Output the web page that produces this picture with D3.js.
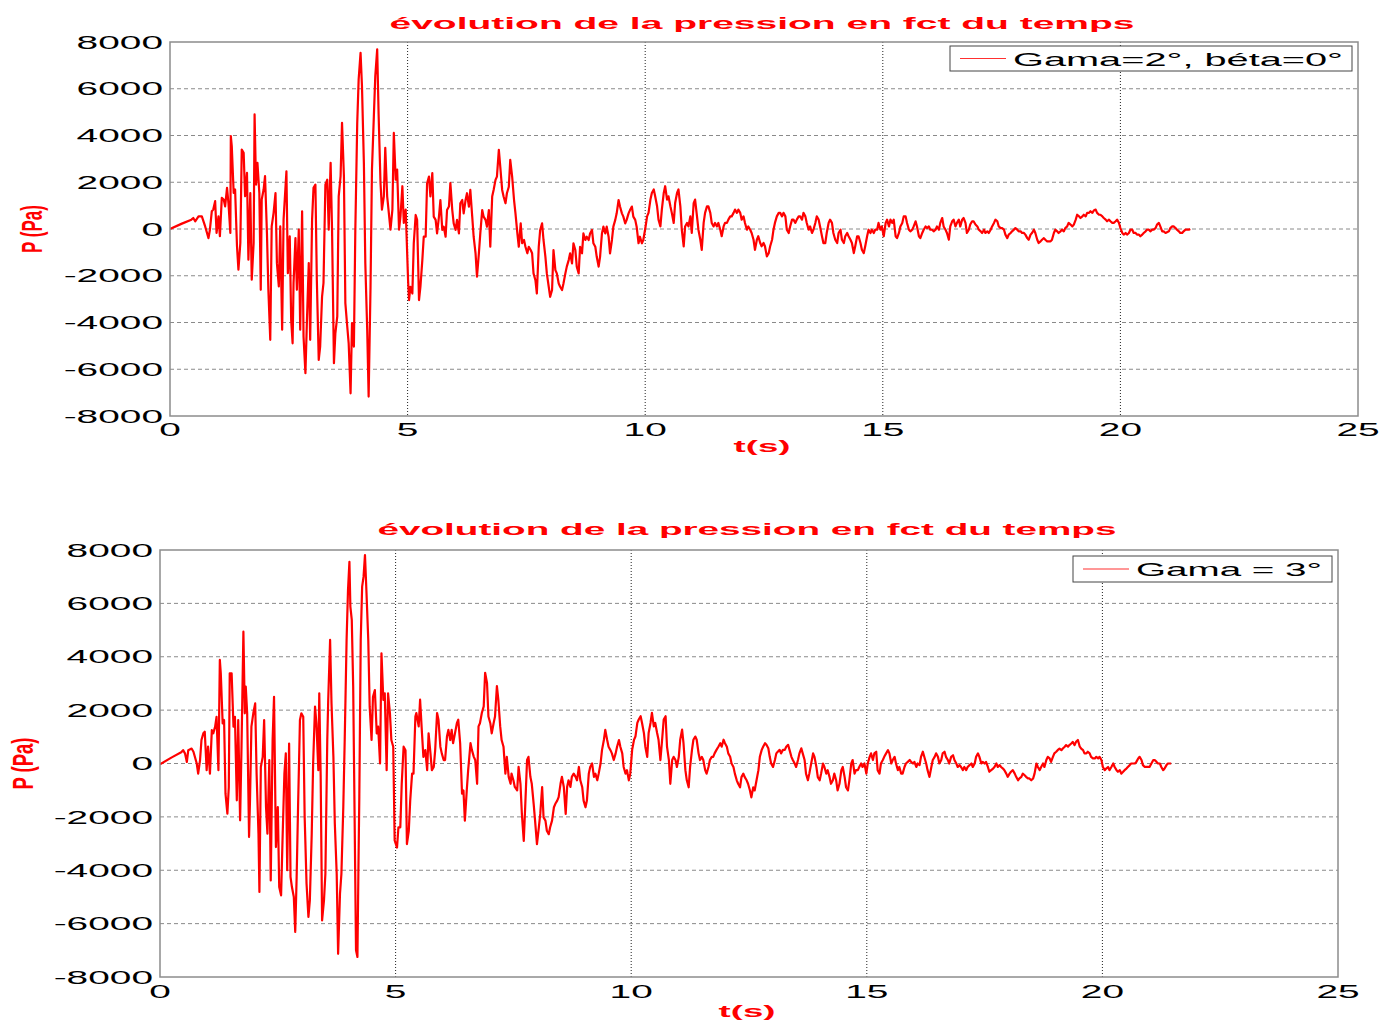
<!DOCTYPE html>
<html><head><meta charset="utf-8">
<script src="https://cdn.jsdelivr.net/npm/d3@7"></script>
<style>body{margin:0;background:#fff}svg{display:block}</style>
</head><body>
<svg id="chart" width="1381" height="1022"></svg>
<script>
const titleText = "évolution de la pression en fct du temps";
const xLabelText = "t(s)";
const yLabelText = "P (Pa)";
const legendTop = "Gama=2°, béta=0°";
const legendBottom = "Gama = 3°";
const xTicks = [0, 5, 10, 15, 20, 25];
const yTicks = [-8000, -6000, -4000, -2000, 0, 2000, 4000, 6000, 8000];

const seriesGama2 = [[0,0],[0.25,230],[0.45,400],[0.49,470],[0.53,330],[0.60,540],[0.67,540],[0.74,110],[0.81,-390],[0.84,-30],[0.88,760],[0.91,830],[0.95,1190],[0.98,-170],[1.02,540],[1.05,-310],[1.09,1330],[1.13,1260],[1.16,970],[1.20,1760],[1.23,1110],[1.27,-170],[1.28,3970],[1.30,3540],[1.34,1540],[1.37,1690],[1.41,-740],[1.44,-1740],[1.48,-600],[1.51,3400],[1.55,3260],[1.58,1400],[1.62,2400],[1.65,-1310],[1.69,1540],[1.72,-2170],[1.76,-600],[1.78,4900],[1.81,1900],[1.84,2830],[1.88,1540],[1.91,-2600],[1.93,1260],[1.97,1690],[2.00,2260],[2.04,-170],[2.07,-2600],[2.11,-4740],[2.14,110],[2.18,690],[2.22,1540],[2.25,-1460],[2.29,-2460],[2.32,110],[2.36,-4310],[2.39,400],[2.45,2470],[2.48,-1890],[2.52,-310],[2.55,-3890],[2.58,-4890],[2.60,-2310],[2.64,-390],[2.67,-2600],[2.71,-30],[2.74,-4310],[2.78,760],[2.81,-4600],[2.85,-6170],[2.88,-4030],[2.92,-1460],[2.95,-4740],[2.99,400],[3.02,1760],[3.06,1900],[3.09,-2170],[3.13,-5600],[3.16,-5030],[3.20,-2890],[3.23,-2310],[3.27,1900],[3.31,2110],[3.34,-30],[3.38,2830],[3.41,-30],[3.45,-5740],[3.48,-4460],[3.52,-3740],[3.55,1400],[3.59,2260],[3.62,4540],[3.66,2260],[3.69,-3170],[3.73,-4170],[3.76,-4890],[3.80,-7030],[3.83,-4030],[3.87,-5030],[3.90,-30],[3.94,4540],[3.97,6400],[4.01,7540],[4.04,6110],[4.08,2830],[4.11,-1460],[4.15,-4310],[4.18,-7170],[4.22,-2460],[4.25,2540],[4.29,4830],[4.32,6540],[4.36,7690],[4.39,4900],[4.43,1970],[4.46,830],[4.50,1400],[4.53,3470],[4.57,1400],[4.64,-30],[4.68,830],[4.71,4110],[4.75,2110],[4.78,2540],[4.82,-30],[4.85,540],[4.89,1830],[4.92,260],[4.96,830],
[5.01,-2190],[5.03,-3040],[5.06,-2470],[5.10,-2760],[5.13,-610],[5.17,600],[5.20,390],[5.24,-3040],[5.27,-2470],[5.31,-1330],[5.34,-330],[5.38,-330],[5.41,1960],[5.45,2240],[5.48,1390],[5.52,2390],[5.55,530],[5.59,390],[5.62,-190],[5.66,530],[5.69,1240],[5.73,-40],[5.76,100],[5.80,-330],[5.83,810],[5.87,960],[5.90,1960],[5.94,810],[5.97,240],[6.01,-40],[6.04,390],[6.08,-190],[6.11,1100],[6.15,1240],[6.18,670],[6.22,1240],[6.25,1530],[6.29,960],[6.32,1670],[6.36,530],[6.39,-330],[6.43,-1040],[6.46,-2040],[6.50,-1040],[6.53,-190],[6.57,810],[6.60,530],[6.64,390],[6.67,100],[6.71,810],[6.74,-760],[6.78,1390],[6.81,1670],[6.85,2100],[6.88,2240],[6.92,3390],[6.95,2670],[6.99,1670],[7.02,1390],[7.06,1100],[7.09,1530],[7.13,1810],[7.16,2960],[7.20,2240],[7.24,1240],[7.27,670],[7.31,-190],[7.34,-760],[7.38,240],[7.41,-610],[7.45,-470],[7.48,-760],[7.52,-1040],[7.55,-760],[7.59,-900],[7.62,-1040],[7.65,-1900],[7.69,-2190],[7.72,-2760],[7.76,-760],[7.79,-40],[7.83,240],[7.86,-470],[7.90,-1190],[7.93,-1900],[7.97,-2470],[8.00,-2900],[8.04,-2610],[8.07,-900],[8.11,-1760],[8.14,-1900],[8.18,-2330],[8.21,-2470],[8.25,-2610],[8.28,-2330],[8.32,-1900],[8.35,-1610],[8.39,-1330],[8.42,-1040],[8.46,-1470],[8.49,-610],[8.53,-900],[8.56,-1610],[8.60,-1900],[8.63,-760],[8.67,-1040],[8.70,-190],[8.74,-470],[8.77,-330],[8.81,-470],[8.84,-190],[8.88,-40],[8.91,-610],[8.95,-760],[8.98,-1190],[9.02,-1610],[9.05,-1190],[9.09,-190],[9.12,100],[9.16,-190],[9.19,100],[9.23,-330],[9.26,-1040],[9.30,-470],[9.33,100],[9.37,390],[9.40,670],[9.44,1240],[9.47,960],[9.51,670],[9.54,530],[9.58,240],[9.61,390],[9.65,670],[9.68,810],[9.72,960],[9.75,530],[9.79,390],[9.82,100],[9.86,-610],[9.89,-330],[9.93,-610],[9.96,-470],
[10.0,0],[10.04,540],[10.07,690],[10.11,1260],[10.14,1540],[10.18,1690],[10.21,1400],[10.25,970],[10.28,400],[10.32,110],[10.35,830],[10.39,1540],[10.42,1830],[10.46,1260],[10.49,1400],[10.53,970],[10.56,690],[10.60,260],[10.63,1110],[10.67,1540],[10.70,1690],[10.74,970],[10.77,-30],[10.81,-740],[10.84,110],[10.88,260],[10.91,110],[10.95,540],[10.98,-170],[11.02,1110],[11.05,1260],[11.09,540],[11.12,-30],[11.16,-460],[11.19,-890],[11.23,260],[11.26,690],[11.30,970],[11.33,970],[11.37,690],[11.40,260],[11.44,110],[11.47,260],[11.51,110],[11.54,260],[11.58,-30],[11.61,-310],[11.65,110],[11.68,260],[11.72,260],[11.75,400],[11.79,540],[11.82,540],[11.86,690],[11.89,830],[11.93,690],[11.96,830],[12.0,690],[12.03,400],[12.07,540],[12.10,260],[12.14,-30],[12.17,110],[12.21,-30],[12.24,-170],[12.28,-460],[12.31,-890],[12.35,-460],[12.38,-310],[12.42,-600],[12.45,-740],[12.49,-600],[12.52,-740],[12.56,-1170],[12.60,-1030],[12.63,-740],[12.67,-460],[12.70,-30],[12.73,260],[12.77,540],[12.81,690],[12.84,690],[12.88,540],[12.91,690],[12.95,540],[12.98,-30],[13.02,-170],[13.05,110],[13.09,400],[13.12,400],[13.16,260],[13.19,400],[13.23,540],[13.26,540],[13.30,400],[13.33,690],[13.37,540],[13.40,260],[13.44,-30],[13.47,110],[13.51,-170],[13.54,-30],[13.58,260],[13.61,540],[13.65,400],[13.68,110],[13.72,-310],[13.75,-600],[13.79,-600],[13.82,-170],[13.86,260],[13.89,400],[13.93,260],[13.96,-170],[14.0,-460],[14.04,-600],[14.07,-170],[14.11,-30],[14.14,-460],[14.18,-600],[14.21,-310],[14.25,-170],[14.28,-310],[14.32,-460],[14.35,-600],[14.39,-1030],[14.42,-740],[14.46,-310],[14.49,-310],[14.53,-600],[14.56,-890],[14.60,-1030],[14.63,-740],[14.67,-310],[14.70,-30],[14.74,-170],[14.77,-30],[14.81,-170],[14.84,-30],[14.88,-30],[14.91,260],[14.95,-30],[14.98,110],
[15.02,-310],[15.06,260],[15.09,400],[15.13,110],[15.16,400],[15.20,260],[15.23,400],[15.27,-310],[15.30,-390],[15.34,-170],[15.37,110],[15.41,260],[15.44,540],[15.48,540],[15.51,260],[15.55,-30],[15.58,-100],[15.62,-30],[15.65,110],[15.69,330],[15.72,110],[15.76,-310],[15.79,-390],[15.83,-170],[15.86,-30],[15.90,110],[15.93,40],[15.97,110],[16.0,-30],[16.04,-30],[16.07,-100],[16.11,-30],[16.14,110],[16.18,-30],[16.21,260],[16.25,470],[16.28,110],[16.32,-30],[16.35,-170],[16.39,-460],[16.42,110],[16.46,330],[16.49,400],[16.53,110],[16.56,260],[16.60,400],[16.63,110],[16.67,400],[16.70,470],[16.74,260],[16.77,-170],[16.81,-30],[16.84,190],[16.88,330],[16.91,330],[16.95,190],[16.99,110],[17.02,-30],[17.06,-100],[17.09,-170],[17.13,-30],[17.16,-170],[17.20,-100],[17.23,-170],[17.27,-30],[17.30,110],[17.34,260],[17.37,400],[17.41,330],[17.44,110],[17.48,40],[17.51,40],[17.55,-30],[17.58,-240],[17.62,-390],[17.65,-240],[17.69,-170],[17.72,-100],[17.76,-30],[17.79,40],[17.83,-30],[17.86,-100],[17.90,-100],[17.93,-170],[17.97,-170],[18.0,-240],[18.04,-390],[18.07,-460],[18.11,-240],[18.14,-170],[18.18,-30],[18.21,-170],[18.25,-460],[18.28,-600],[18.32,-530],[18.35,-460],[18.39,-390],[18.42,-460],[18.46,-530],[18.49,-530],[18.53,-530],[18.56,-460],[18.60,-170],[18.63,-30],[18.67,-100],[18.70,-170],[18.74,-100],[18.77,-30],[18.81,-100],[18.84,40],[18.88,110],[18.91,260],[18.95,190],[18.99,110],[19.02,190],[19.06,400],[19.09,610],[19.13,540],[19.16,470],[19.20,540],[19.23,610],[19.27,540],[19.30,690],[19.34,690],[19.37,760],[19.41,690],[19.44,790],[19.48,830],[19.51,690],[19.55,610],[19.58,610],[19.62,540],[19.65,470],[19.69,400],[19.72,330],[19.76,400],[19.79,330],[19.83,260],[19.86,260],[19.90,330],[19.93,400],[19.97,260],[20.0,40],[20.04,-170],[20.07,-240],[20.11,-170],[20.14,-240],[20.18,-170],[20.21,-30],[20.25,-30],[20.28,-170],[20.32,-170],[20.35,-240],[20.39,-240],[20.42,-310],[20.46,-240],[20.49,-170],[20.53,-100],[20.56,-30],[20.60,-30],[20.63,-100],[20.67,-30],[20.70,-30],[20.74,40],[20.77,190],[20.81,260],[20.84,110],[20.88,-100],[20.91,-100],[20.95,-170],[20.98,-140],[21.02,-100],[21.05,40],[21.09,110],[21.12,110],[21.16,40],[21.19,-30],[21.23,-100],[21.26,-170],[21.30,-170],[21.33,-100],[21.37,-30],[21.40,-30],[21.44,-30],[21.47,0]];

const seriesGama3 = [[0,-30],[0.25,230],[0.45,420],[0.49,500],[0.53,380],[0.57,60],[0.60,500],[0.67,560],[0.71,440],[0.78,0],[0.81,-380],[0.85,130],[0.88,880],[0.92,1130],[0.95,1190],[0.99,-250],[1.02,630],[1.06,-380],[1.10,1250],[1.13,1130],[1.17,1380],[1.20,1750],[1.24,-250],[1.27,3880],[1.29,3380],[1.33,1500],[1.36,1630],[1.39,-1130],[1.43,-1880],[1.46,-880],[1.48,3380],[1.52,3380],[1.56,1380],[1.59,1750],[1.63,-1380],[1.66,1630],[1.70,-2130],[1.73,630],[1.77,4940],[1.80,1880],[1.82,2880],[1.85,1880],[1.89,-2750],[1.91,-1380],[1.94,1380],[1.98,1880],[2.02,2250],[2.05,-380],[2.09,-2630],[2.11,-4810],[2.14,-130],[2.18,250],[2.21,1630],[2.25,-1630],[2.28,-2630],[2.32,130],[2.35,-4380],[2.39,880],[2.42,2500],[2.46,-3130],[2.50,-1630],[2.53,-4630],[2.57,-4940],[2.60,-2880],[2.64,-380],[2.67,380],[2.70,-4000],[2.74,750],[2.77,-4250],[2.80,-4630],[2.84,-5000],[2.87,-6310],[2.90,-4250],[2.93,-1630],[2.97,1630],[3.00,1880],[3.04,1750],[3.07,-2000],[3.11,-4500],[3.15,-5750],[3.18,-5130],[3.22,-2630],[3.25,0],[3.29,2130],[3.32,1500],[3.36,-250],[3.38,2630],[3.41,-500],[3.44,-5880],[3.48,-5130],[3.51,-4130],[3.55,880],[3.57,2380],[3.61,4630],[3.64,2250],[3.68,250],[3.71,-2250],[3.75,-4130],[3.78,-7130],[3.82,-4880],[3.85,-4130],[3.89,-1630],[3.92,880],[3.96,4630],[3.99,6500],[4.02,7560],[4.04,5880],[4.07,5380],[4.10,2880],[4.13,-2000],[4.16,-7000],[4.19,-7250],[4.21,-4130],[4.23,-1250],[4.26,4630],[4.29,6630],[4.32,7000],[4.35,7810],[4.38,6500],[4.42,4630],[4.45,2130],[4.49,880],[4.52,2500],[4.56,2750],[4.60,1130],[4.63,1380],[4.67,0],[4.70,4130],[4.74,2380],[4.77,2630],[4.81,-250],[4.84,2630],[4.88,1880],[4.91,880],[4.95,630],[4.98,-2880],
[5.03,-3150],[5.06,-2390],[5.10,-2390],[5.13,-760],[5.17,630],[5.21,500],[5.24,-3020],[5.28,-2520],[5.31,-1390],[5.35,-380],[5.38,-380],[5.42,1760],[5.44,1890],[5.49,1390],[5.52,2390],[5.56,1130],[5.59,250],[5.63,500],[5.67,-250],[5.70,1130],[5.74,380],[5.77,-250],[5.81,-130],[5.84,500],[5.88,1890],[5.91,1640],[5.95,630],[5.98,380],[6.02,130],[6.05,130],[6.09,1010],[6.12,1260],[6.16,880],[6.19,1260],[6.22,760],[6.26,1130],[6.30,1510],[6.33,1640],[6.37,760],[6.41,-1130],[6.44,-1010],[6.47,-2140],[6.51,-1010],[6.54,-250],[6.59,760],[6.62,500],[6.66,250],[6.69,130],[6.73,-760],[6.76,1390],[6.79,1510],[6.83,1890],[6.87,2140],[6.90,3400],[6.94,3020],[6.97,1760],[7.01,1510],[7.04,1130],[7.08,1510],[7.11,1760],[7.15,2900],[7.18,2390],[7.22,1390],[7.25,880],[7.29,630],[7.33,-380],[7.36,250],[7.40,-500],[7.44,-760],[7.46,-380],[7.50,-630],[7.53,-880],[7.58,-1010],[7.61,-130],[7.65,-760],[7.68,-1890],[7.72,-2900],[7.75,-1640],[7.79,130],[7.82,250],[7.86,-500],[7.89,-760],[7.93,-1510],[7.96,-2140],[8.0,-3020],[8.04,-2390],[8.07,-1890],[8.11,-880],[8.14,-2020],[8.18,-2140],[8.21,-2520],[8.25,-2650],[8.28,-2390],[8.32,-2140],[8.36,-1640],[8.39,-1510],[8.43,-1390],[8.46,-1260],[8.50,-760],[8.53,-500],[8.57,-880],[8.61,-1890],[8.64,-880],[8.67,-630],[8.71,-880],[8.74,-500],[8.78,-380],[8.82,-500],[8.85,-630],[8.89,-130],[8.92,-630],[8.96,-880],[8.99,-1390],[9.03,-1640],[9.06,-1390],[9.10,-380],[9.13,-130],[9.17,0],[9.21,-500],[9.24,-380],[9.28,-630],[9.31,-380],[9.35,0],[9.38,500],[9.42,880],[9.45,1260],[9.49,880],[9.52,630],[9.56,500],[9.59,380],[9.63,130],[9.67,380],[9.70,630],[9.74,880],[9.77,630],[9.81,380],[9.84,-130],[9.88,-380],[9.91,-250],[9.95,-630],[9.98,-380],
[10.02,510],[10.06,890],[10.09,1010],[10.13,1520],[10.16,1650],[10.20,1770],[10.23,1520],[10.27,1140],[10.30,630],[10.34,250],[10.37,1140],[10.41,1520],[10.44,1900],[10.48,1390],[10.51,1520],[10.55,1140],[10.58,890],[10.62,130],[10.65,760],[10.69,1650],[10.73,1770],[10.76,630],[10.80,130],[10.83,-760],[10.87,130],[10.90,250],[10.94,130],[10.97,-130],[11.01,250],[11.04,890],[11.08,1270],[11.11,760],[11.15,-250],[11.18,-630],[11.22,-890],[11.25,-130],[11.29,510],[11.32,890],[11.36,1010],[11.39,890],[11.43,380],[11.46,130],[11.50,250],[11.53,130],[11.57,-250],[11.60,-380],[11.64,-130],[11.67,130],[11.71,250],[11.74,250],[11.77,380],[11.81,510],[11.85,630],[11.89,760],[11.92,630],[11.96,890],[11.99,760],[12.03,630],[12.06,380],[12.10,250],[12.13,0],[12.17,-130],[12.20,-380],[12.24,-630],[12.27,-760],[12.31,-890],[12.34,-510],[12.38,-380],[12.41,-510],[12.45,-630],[12.48,-760],[12.52,-1010],[12.55,-1270],[12.59,-890],[12.62,-1010],[12.66,-630],[12.70,-250],[12.73,250],[12.77,510],[12.80,630],[12.84,760],[12.87,700],[12.91,570],[12.94,250],[12.97,0],[13.01,-130],[13.05,130],[13.08,380],[13.11,440],[13.15,510],[13.18,380],[13.22,510],[13.26,510],[13.29,630],[13.33,700],[13.36,510],[13.40,250],[13.43,130],[13.47,0],[13.50,-130],[13.54,130],[13.57,380],[13.61,570],[13.64,380],[13.68,130],[13.71,-380],[13.75,-630],[13.78,-380],[13.82,0],[13.86,380],[13.89,250],[13.93,-130],[13.96,-510],[14.0,-630],[14.03,-380],[14.07,0],[14.10,-130],[14.14,-380],[14.17,-250],[14.21,-510],[14.24,-760],[14.28,-630],[14.31,-380],[14.35,-630],[14.38,-1010],[14.42,-760],[14.46,-250],[14.49,-130],[14.53,-510],[14.56,-890],[14.60,-1010],[14.63,-630],[14.67,0],[14.70,130],[14.74,-380],[14.77,-250],[14.81,-250],[14.84,-130],[14.88,0],[14.91,-130],[14.95,0],
[14.99,-380],[15.02,0],[15.06,250],[15.09,380],[15.13,130],[15.16,380],[15.20,440],[15.23,-250],[15.27,-380],[15.30,0],[15.34,130],[15.37,250],[15.41,380],[15.45,500],[15.48,380],[15.52,0],[15.55,130],[15.59,250],[15.62,0],[15.66,-250],[15.69,-130],[15.73,-380],[15.76,-380],[15.80,-130],[15.83,0],[15.87,60],[15.91,130],[15.94,60],[15.98,0],[16.01,60],[16.05,-130],[16.08,0],[16.12,-60],[16.15,250],[16.19,440],[16.22,250],[16.26,0],[16.29,-250],[16.33,-500],[16.37,-130],[16.40,130],[16.44,250],[16.47,380],[16.51,250],[16.54,0],[16.58,130],[16.61,380],[16.65,440],[16.68,250],[16.72,130],[16.75,0],[16.79,250],[16.83,310],[16.86,130],[16.90,0],[16.93,-130],[16.97,-60],[17.0,-130],[17.04,-250],[17.07,-130],[17.11,-250],[17.14,-130],[17.18,-60],[17.22,0],[17.25,-130],[17.29,0],[17.32,250],[17.36,380],[17.39,250],[17.43,0],[17.46,60],[17.50,0],[17.53,60],[17.57,-130],[17.60,-310],[17.64,-250],[17.68,-190],[17.71,-130],[17.75,0],[17.78,-130],[17.82,-60],[17.85,-130],[17.89,-190],[17.92,-250],[17.96,-380],[17.99,-500],[18.03,-380],[18.06,-310],[18.10,-250],[18.14,-380],[18.17,-500],[18.21,-630],[18.24,-560],[18.28,-500],[18.31,-380],[18.35,-440],[18.38,-500],[18.42,-560],[18.45,-560],[18.49,-630],[18.53,-560],[18.56,-380],[18.60,0],[18.63,-130],[18.67,-250],[18.70,-130],[18.74,0],[18.77,-130],[18.81,130],[18.84,250],[18.88,190],[18.91,60],[18.95,250],[18.98,380],[19.02,440],[19.05,500],[19.09,560],[19.13,500],[19.16,560],[19.20,630],[19.23,690],[19.27,630],[19.30,690],[19.34,750],[19.37,810],[19.41,690],[19.44,810],[19.48,880],[19.52,630],[19.55,560],[19.59,500],[19.62,380],[19.66,380],[19.69,440],[19.73,380],[19.76,250],[19.80,190],[19.84,190],[19.87,250],[19.91,190],[19.94,250],[19.98,130],[20.01,-130],[20.05,-250],[20.08,-190],[20.12,-130],[20.15,-250],[20.19,-130],[20.23,0],[20.26,-130],[20.30,-250],[20.33,-310],[20.37,-250],[20.40,-380],[20.44,-310],[20.47,-250],[20.51,-190],[20.54,-130],[20.58,-60],[20.61,0],[20.65,0],[20.69,0],[20.72,60],[20.76,190],[20.79,250],[20.83,130],[20.86,-60],[20.90,-130],[20.93,-130],[20.97,-130],[21.00,-130],[21.04,0],[21.08,130],[21.11,130],[21.15,60],[21.18,0],[21.22,0],[21.25,-130],[21.29,-250],[21.32,-190],[21.36,-60],[21.39,0],[21.43,0],[21.46,0]];

const svg = d3.select("#chart");
const FONT = "'Liberation Sans', Arial, sans-serif";
const SX = 2.1; // horizontal stretch of the original figure

function panel(cfg) {
  const x = d3.scaleLinear().domain([0, 25]).range([cfg.left, cfg.right]);
  const y = d3.scaleLinear().domain([-8000, 8000]).range([cfg.bottom, cfg.top]);
  const g = svg.append("g");
  const clipId = "clip" + cfg.id;
  svg.append("clipPath").attr("id", clipId).append("rect")
    .attr("x", cfg.left).attr("y", cfg.top)
    .attr("width", cfg.right - cfg.left).attr("height", cfg.bottom - cfg.top);

  g.selectAll("line.hg").data(yTicks.filter(v => v > -8000 && v < 8000)).join("line")
    .attr("x1", cfg.left).attr("x2", cfg.right)
    .attr("y1", d => y(d)).attr("y2", d => y(d))
    .attr("stroke", "#8a8a8a").attr("stroke-width", 1).attr("stroke-dasharray", "4,3");
  g.selectAll("line.vg").data(xTicks.filter(v => v > 0 && v < 25)).join("line")
    .attr("y1", cfg.top).attr("y2", cfg.bottom)
    .attr("x1", d => x(d)).attr("x2", d => x(d))
    .attr("stroke", "#222").attr("stroke-width", 1).attr("stroke-dasharray", "1,2");

  const line = d3.line().x(d => x(d[0])).y(d => y(d[1]));
  g.append("path").datum(cfg.data).attr("d", line)
    .attr("clip-path", `url(#${clipId})`)
    .attr("fill", "none").attr("stroke", "#ff0000").attr("stroke-width", 2.2)
    .attr("stroke-linejoin", "round");

  g.append("rect").attr("x", cfg.left).attr("y", cfg.top)
    .attr("width", cfg.right - cfg.left).attr("height", cfg.bottom - cfg.top)
    .attr("fill", "none").attr("stroke", "#8c8c8c").attr("stroke-width", 1.5);

  g.selectAll("text.yt").data(yTicks).join("text")
    .attr("transform", d => `translate(${cfg.left - 7},${y(d) + 6.7}) scale(${SX},1)`)
    .attr("text-anchor", "end").attr("font-family", FONT).attr("font-size", 18.5)
    .attr("fill", "#000").text(d => d);
  g.selectAll("text.xt").data(xTicks).join("text")
    .attr("transform", d => `translate(${x(d)},${cfg.bottom + cfg.xtOff}) scale(${SX},1)`)
    .attr("text-anchor", "middle").attr("font-family", FONT).attr("font-size", 18.5)
    .attr("fill", "#000").text(d => d);

  const cx = (cfg.left + cfg.right) / 2 - 2;
  g.append("text").attr("x", cx).attr("y", cfg.top - cfg.tOff)
    .attr("text-anchor", "middle").attr("font-family", FONT).attr("font-weight", "bold")
    .attr("font-size", 17).attr("fill", "#ff0000")
    .attr("textLength", cfg.titleLen).attr("lengthAdjust", "spacingAndGlyphs")
    .text(titleText);
  g.append("text").attr("x", cx).attr("y", cfg.bottom + cfg.xlOff)
    .attr("text-anchor", "middle").attr("font-family", FONT).attr("font-weight", "bold")
    .attr("font-size", 17).attr("fill", "#ff0000")
    .attr("textLength", 57).attr("lengthAdjust", "spacingAndGlyphs")
    .text(xLabelText);
  g.append("text")
    .attr("transform", `translate(${cfg.ylX},${(cfg.top + cfg.bottom) / 2}) rotate(-90) scale(1,1.75)`)
    .attr("text-anchor", "middle").attr("dy", "0.35em")
    .attr("font-family", FONT).attr("font-weight", "bold")
    .attr("font-size", 17).attr("fill", "#ff0000")
    .attr("textLength", cfg.ylLen).attr("lengthAdjust", "spacingAndGlyphs")
    .text(yLabelText);

  const L = cfg.legend;
  g.append("rect").attr("x", L.x).attr("y", L.y).attr("width", L.w).attr("height", L.h)
    .attr("fill", "#fff").attr("stroke", "#444").attr("stroke-width", 1);
  g.append("line").attr("x1", L.x + 10).attr("x2", L.x + 56)
    .attr("y1", L.y + L.h / 2).attr("y2", L.y + L.h / 2)
    .attr("stroke", "#ff3030").attr("stroke-width", 1.2);
  g.append("text").attr("x", L.x + 63).attr("y", L.y + L.h / 2 + 7)
    .attr("font-family", FONT).attr("font-size", 19).attr("fill", "#000")
    .attr("textLength", L.tl).attr("lengthAdjust", "spacingAndGlyphs")
    .text(L.text);
}

panel({id: 1, left: 170, right: 1358, top: 42, bottom: 416, data: seriesGama2,
  xtOff: 20, xlOff: 36, ylX: 32, ylLen: 48, titleLen: 745, tOff: 13,
  legend: {x: 950, y: 46, w: 402, h: 25, tl: 330, text: legendTop}});
panel({id: 2, left: 160, right: 1338, top: 550, bottom: 977, data: seriesGama3,
  xtOff: 21, xlOff: 40, ylX: 23, ylLen: 52, titleLen: 739, tOff: 15,
  legend: {x: 1073, y: 556, w: 259, h: 26, tl: 186, text: legendBottom}});
</script>
</body></html>
